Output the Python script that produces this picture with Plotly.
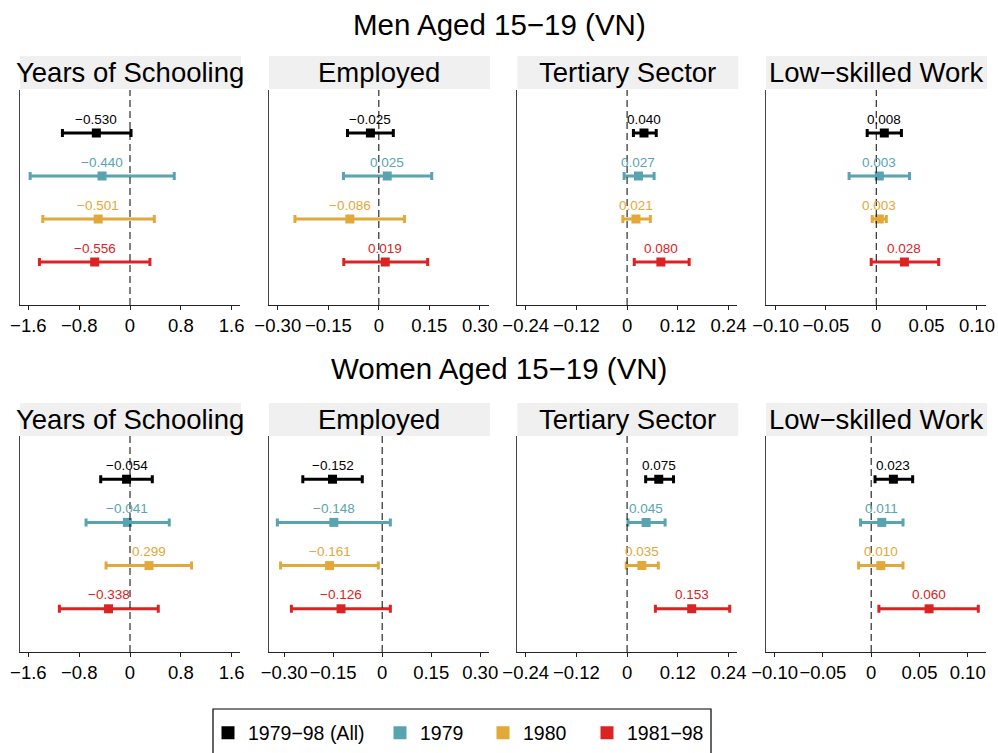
import plotly.graph_objects as go

# ---------------- data ----------------
outcomes = ["Years of Schooling", "Employed", "Tertiary Sector", "Low\u2212skilled Work"]
series = ["1979\u221298 (All)", "1979", "1980", "1981\u221298"]
colors = ["#000000", "#58A4B0", "#E2A83A", "#DC2323"]
row_titles = ["Men Aged 15\u221219 (VN)", "Women Aged 15\u221219 (VN)"]

# rows: outcome, columns: series
men_est = [[-0.530, -0.440, -0.501, -0.556],
           [-0.025, 0.025, -0.086, 0.019],
           [0.040, 0.027, 0.021, 0.080],
           [0.008, 0.003, 0.003, 0.028]]
men_lo = [[-1.064, -1.572, -1.373, -1.426],
          [-0.093, -0.105, -0.249, -0.104],
          [0.015, -0.007, -0.010, 0.017],
          [-0.009, -0.027, -0.004, -0.005]]
men_hi = [[0.016, 0.697, 0.383, 0.314],
          [0.043, 0.157, 0.076, 0.145],
          [0.069, 0.064, 0.055, 0.147],
          [0.025, 0.033, 0.010, 0.062]]

women_est = [[-0.054, -0.041, 0.299, -0.338],
             [-0.152, -0.148, -0.161, -0.126],
             [0.075, 0.045, 0.035, 0.153],
             [0.023, 0.011, 0.010, 0.060]]
women_lo = [[-0.461, -0.692, -0.377, -1.112],
            [-0.243, -0.321, -0.311, -0.278],
            [0.044, 0.002, -0.002, 0.067],
            [0.004, -0.011, -0.013, 0.008]]
women_hi = [[0.351, 0.618, 0.970, 0.445],
            [-0.061, 0.025, -0.012, 0.025],
            [0.110, 0.090, 0.074, 0.243],
            [0.043, 0.033, 0.033, 0.111]]

tick_vals = [[-1.6, -0.8, 0, 0.8, 1.6],
             [-0.30, -0.15, 0, 0.15, 0.30],
             [-0.24, -0.12, 0, 0.12, 0.24],
             [-0.10, -0.05, 0, 0.05, 0.10]]
tick_text = [["\u22121.6", "\u22120.8", "0", "0.8", "1.6"],
             ["\u22120.30", "\u22120.15", "0", "0.15", "0.30"],
             ["\u22120.24", "\u22120.12", "0", "0.12", "0.24"],
             ["\u22120.10", "\u22120.05", "0", "0.05", "0.10"]]

# ---------------- layout constants ----------------
W, H = 998, 753
FONT = "Liberation Sans, Arial, Helvetica, sans-serif"
col_px = [(20, 240), (269, 489), (517.3, 737.3), (766, 986)]
row_px = [(90, 305), (436, 652)]
strip_px = [(56, 89), (403, 436)]
title_y_px = [25, 368]
x_ranges = [[(-1.732, 1.732), (-0.326, 0.327), (-0.260, 0.261), (-0.1095, 0.109)],
            [(-1.732, 1.732), (-0.3465, 0.327), (-0.260, 0.261), (-0.109, 0.119)]]
legend_marker_px = [229, 401, 504, 608]
legend_box_px = (213, 709, 711, 770)
legend_center_y_px = 733

rows = [(men_est, men_lo, men_hi), (women_est, women_lo, women_hi)]

fig = go.Figure()
annotations = []
shapes = []

for r, (est, lo, hi) in enumerate(rows):
    for c in range(len(outcomes)):
        n = r * 4 + c + 1
        xa = "x" if n == 1 else f"x{n}"
        ya = "y" if n == 1 else f"y{n}"
        for i, s in enumerate(series):
            ypos = len(series) - i
            e = est[c][i]
            fig.add_trace(go.Scatter(
                x=[e], y=[ypos], mode="markers",
                marker=dict(symbol="square", size=9, color=colors[i]),
                error_x=dict(type="data", symmetric=False,
                             array=[hi[c][i] - e], arrayminus=[e - lo[c][i]],
                             color=colors[i], thickness=3, width=4),
                xaxis=xa, yaxis=ya, showlegend=False, hoverinfo="skip"))
            annotations.append(dict(
                x=e, y=ypos, xref=xa, yref=ya, text=f"{e:.3f}".replace("-", "\u2212"),
                showarrow=False, yshift=14, font=dict(size=13.5, color=colors[i], family=FONT)))
        x0, x1 = col_px[c]
        y0, y1 = row_px[r]
        fig.layout[f"xaxis{n}"] = dict(
            domain=[x0 / W, x1 / W], range=list(x_ranges[r][c]), anchor=ya,
            tickmode="array", tickvals=tick_vals[c], ticktext=tick_text[c],
            ticks="outside", ticklen=4, tickwidth=1, tickcolor="#222", tickangle=0,
            showline=True, linecolor="#222", linewidth=1, automargin=False,
            showgrid=False, zeroline=False,
            tickfont=dict(size=18.5, color="black", family=FONT))
        fig.layout[f"yaxis{n}"] = dict(
            domain=[1 - y1 / H, 1 - y0 / H], range=[0, 5], anchor=xa,
            showline=True, linecolor="#444", linewidth=1, automargin=False,
            showticklabels=False, ticks="", showgrid=False, zeroline=False)
        # dashed zero line
        shapes.append(dict(type="line", xref=xa, yref=f"{ya} domain", x0=0, x1=0, y0=0, y1=1,
                           line=dict(color="#000", width=1, dash="7px,4px")))
        # strip
        s0, s1 = strip_px[r]
        shapes.append(dict(type="rect", xref="paper", yref="paper",
                           x0=x0 / W, x1=(x1 + 1) / W, y0=1 - s1 / H, y1=1 - s0 / H,
                           fillcolor="#F0F0F0", line=dict(width=0), layer="below"))
        annotations.append(dict(x=(x0 + x1) / 2 / W, y=1 - (s0 + s1) / 2 / H, xref="paper", yref="paper",
                                text=outcomes[c], showarrow=False, xanchor="center", yanchor="middle",
                                font=dict(size=27.5, color="black", family=FONT)))
    annotations.append(dict(x=0.5, y=1 - title_y_px[r] / H, xref="paper", yref="paper",
                            text=row_titles[r], showarrow=False, xanchor="center", yanchor="middle",
                            font=dict(size=29.5, color="black", family=FONT)))

# legend-only traces, one legend per item (for ggplot-like spacing)
legend_layouts = {}
for i, s in enumerate(series):
    lname = "legend" if i == 0 else f"legend{i + 1}"
    fig.add_trace(go.Scatter(x=[None], y=[None], mode="markers", name=s,
                             marker=dict(symbol="square", size=13, color=colors[i]),
                             showlegend=True, legend=lname))
    legend_layouts[lname] = dict(
        orientation="h", x=(legend_marker_px[i] - 21) / W, xanchor="left",
        y=1 - legend_center_y_px / H, yanchor="middle",
        borderwidth=0, bgcolor="rgba(0,0,0,0)",
        font=dict(size=19.5, color="black", family=FONT))

lx0, ly0, lx1, ly1 = legend_box_px
shapes.append(dict(type="rect", xref="paper", yref="paper",
                   x0=lx0 / W, x1=lx1 / W, y0=1 - ly1 / H, y1=1 - ly0 / H,
                   fillcolor="rgba(0,0,0,0)", line=dict(color="black", width=1.2)))

fig.update_layout(
    width=W, height=H, margin=dict(l=0, r=0, t=0, b=0, autoexpand=False),
    paper_bgcolor="white", plot_bgcolor="white",
    font=dict(family=FONT, color="black"),
    annotations=annotations, shapes=shapes,
    **legend_layouts,
)

fig.write_html("out.html", config={"displayModeBar": False},
               post_script="document.body.style.margin='0';document.body.style.overflow='hidden';")
